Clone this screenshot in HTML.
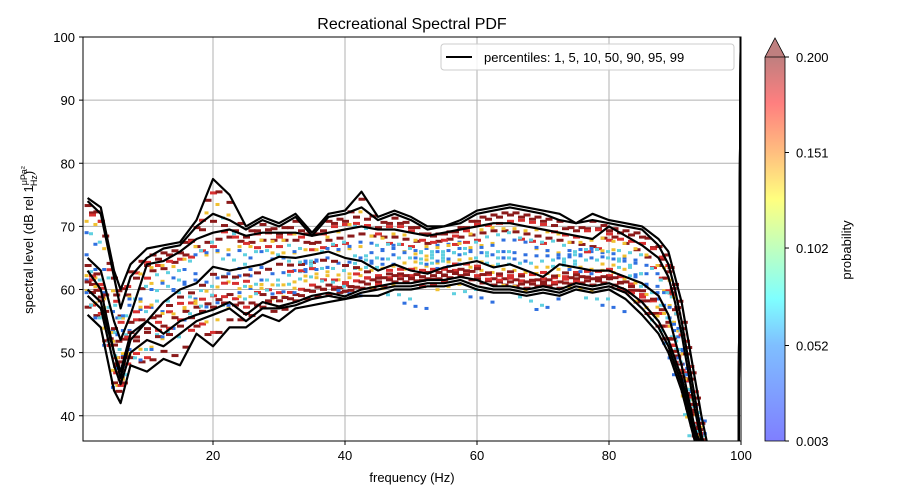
<!DOCTYPE html>
<html><head><meta charset="utf-8"><style>
body{margin:0;background:#fff;}
svg{display:block;font-family:"Liberation Sans","DejaVu Sans",sans-serif;}
</style></head><body>
<svg id="chart" width="900" height="500" viewBox="0 0 900 500">
<defs>
<linearGradient id="jet" x1="0" y1="1" x2="0" y2="0">
<stop offset="0" stop-color="#7f7fff"/><stop offset="0.25" stop-color="#7fbfff"/>
<stop offset="0.37" stop-color="#7fffff"/><stop offset="0.5" stop-color="#bfffbf"/>
<stop offset="0.63" stop-color="#ffff7f"/><stop offset="0.75" stop-color="#ffbf7f"/>
<stop offset="0.88" stop-color="#ff7f7f"/><stop offset="1" stop-color="#bf7f7f"/>
</linearGradient>
<clipPath id="clip"><rect x="83" y="37" width="658" height="404"/></clipPath>
</defs>
<text x="412" y="29" text-anchor="middle" font-size="16">Recreational Spectral PDF</text>
<g id="grid"></g>
<g id="heat" clip-path="url(#clip)"></g>
<g id="lines" clip-path="url(#clip)"></g>
<rect x="83" y="37" width="658" height="404" fill="none" stroke="#000" stroke-width="1"/>
<g id="ticks" font-size="13"></g>
<text x="412" y="482" text-anchor="middle" font-size="13">frequency (Hz)</text>
<text transform="translate(33,240) rotate(-90)" text-anchor="middle" font-size="13">spectral level (dB rel 1<tspan font-size="9" dy="-6">μPa²</tspan><tspan font-size="9" dx="-20" dy="10">Hz</tspan><tspan dy="-4">)</tspan></text>
<g>
<rect x="441" y="44" width="293" height="26" fill="#fff" fill-opacity="0.85" stroke="#ccc" rx="3"/>
<line x1="446" y1="57" x2="472" y2="57" stroke="#000" stroke-width="2"/>
<text x="484" y="62" font-size="13">percentiles: 1, 5, 10, 50, 90, 95, 99</text>
</g>
<g>
<rect x="765" y="57" width="20" height="384" fill="url(#jet)"/>
<polygon points="765,57 775,38 785,57" fill="#bf7f7f" stroke="#000" stroke-width="0.8"/>
<path d="M765,57 L765,441 L785,441 L785,57" fill="none" stroke="#000" stroke-width="0.8"/>
</g>
<g id="cbticks" font-size="13"></g>
<text transform="translate(851,250) rotate(-90)" text-anchor="middle" font-size="13">probability</text>
</svg>
<script>
const freqs=[1,3,5,6,7.5,10,12.5,15,17.5,20,22.5,25,27.5,30,32.5,35,37.5,40,42.5,45,47.5,50,52.5,55,57.5,60,62.5,65,67.5,70,72.5,75,77.5,80,82.5,85,87.5,89,90,91,92,93,94,95,99.6,100];
const p99=[74.5,73,63,60,64,66.5,67,67.5,71,77.5,75,70,71.5,70.5,72,69,72,72.5,75.5,71.5,72.5,71.5,70,70,71,72.5,73,73.5,73,72.5,72,70.5,72,71,70.5,70,68,66,62,58,52,46,40,35,30,110];
const p95=[74,72,62,57,62,65,66.5,67,70,72,71,69.5,71,70,71.5,68.5,71.5,72,73,71,72,71,69.5,70,70.5,72,72.5,73,72.5,72,71,70.5,71,70.5,70,69.5,67,64,60,55,49,43,37,33,30,110];
const p90=[65,63,55,52,56,64,64.5,66,68,69,69.5,68.5,69,69,69,68.5,69,69.5,70,69.5,69.5,69,68.5,69,69.5,70,70.5,70.5,70,69.5,69,68.5,68,70,68.5,67,65,62,58,53,47,41,36,33,30,110];
const p50=[63,60,50,47,53,55,58,60,61,63.6,63,63.5,64,65.2,65,65.5,66,65,64.5,63,64,63,62.5,63.5,64,64.5,63.5,64,63,62,64,63.5,63,63,62,61,59,56,52,48,43,38,35,33,30,110];
const p10=[60,58,50,46,52,55,53,55,56,56.8,58,56,58,57.3,58,59,59.5,58.9,60,60.5,61,61,61.5,61.5,62,61.5,60.5,60.5,60,60.5,60,61,60.5,61,60,58,55,52,49,46,42,38,35,33,30,110];
const p5=[59,57,48,45,50,52,51,53,55,56,57,55,57,57,57.5,58.5,59,58.5,59.5,60,60.5,60.5,61,61,61.5,60.5,60,60,59.5,60,59.5,60.5,60,60.5,59.5,57,54,51,48,45,41,37,34,32,30,110];
const p1=[56,54,44,42,48,47,49,48,53,51,54,54,56,55,57,57.5,58,58.5,59,59,60,60,60.5,60.5,61,60,59.5,59.5,59,59.5,59,60,59.5,60,58.5,56,53,50,47,44,40,36,33,31,30,110];
const xTicks=[20,40,60,80,100];
const yTicks=[40,50,60,70,80,90,100];
const cbTicks=["0.003","0.052","0.102","0.151","0.200"];
const cbValues=[0.003,0.052,0.102,0.151,0.200];

const X=f=>81+f*6.6;
const Y=v=>441-(v-36)/64*404;
const NS="http://www.w3.org/2000/svg";
function mk(tag,attrs,parent){const e=document.createElementNS(NS,tag);for(const k in attrs)e.setAttribute(k,attrs[k]);parent.appendChild(e);return e;}
const grid=document.getElementById('grid'),ticks=document.getElementById('ticks');
xTicks.forEach(t=>{
  const g=mk('line',{x1:X(t),x2:X(t),y1:37,y2:441,stroke:'#b0b0b0','stroke-width':1},grid);
  
  
  mk('line',{x1:X(t),x2:X(t),y1:441,y2:445,stroke:'#000'},ticks);
  const tx=mk('text',{x:X(t),y:460,'text-anchor':'middle'},ticks);tx.textContent=t;
  
  
});
yTicks.forEach(t=>{
  const g=mk('line',{x1:83,x2:741,y1:Y(t),y2:Y(t),stroke:'#b0b0b0','stroke-width':1},grid);
  
  
  mk('line',{x1:79,x2:83,y1:Y(t),y2:Y(t),stroke:'#000'},ticks);
  const tx=mk('text',{x:75,y:Y(t)+5,'text-anchor':'end'},ticks);tx.textContent=t;
  
  
});
const cbt=document.getElementById('cbticks');
cbValues.forEach((v,i)=>{
  const y=441-(v-0.003)/(0.200-0.003)*384;
  mk('line',{x1:785,x2:789,y1:y,y2:y,stroke:'#000'},cbt);
  const tx=mk('text',{x:796,y:y+5},cbt);tx.textContent=cbTicks[i];
  
  
});
// heatmap speckles derived from percentile curves (sparse)
const series=[p1,p5,p10,p50,p90,p95,p99];
const names=['p1','p5','p10','p50','p90','p95','p99'];
const heat=document.getElementById('heat');
const fringe=[[1.2,'#8b1a1a'],[2.2,'#d83030'],[3.2,'#f0c030'],[4.5,'#60d0e0'],[5.5,'#3070e0']];
series.forEach((s,si)=>{
  for(let i=0;i<freqs.length-3;i++){
    const f0=freqs[i],f1=freqs[i+1];
    for(let k=0;k<3;k++){
      const f=f0+(f1-f0)*k/3, v=s[i]+(s[i+1]-s[i])*k/3;
      const dir=(si<3)?1:-1;
      fringe.forEach(([o,c],j)=>{
        if((i*7+k*3+j*5+si*2)%4!==0&&j>0)return;
        if(j===0&&(i+k+si)%2===1)return;
        const r=mk('rect',{x:X(f)-3,y:Y(v+o*dir)-1.5,width:j<2?7:4,height:3,fill:c},heat);
        
        
      });
    }
  }
});
const lines=document.getElementById('lines');
series.forEach((s,si)=>{
  const d=s.map((v,i)=>(i?'L':'M')+X(freqs[i]).toFixed(1)+','+Y(v).toFixed(1)).join('');
  const p=mk('path',{d:d,fill:'none',stroke:'#000','stroke-width':2.2,'stroke-linejoin':'round'},lines);
  
  
});
</script>
</body></html>
